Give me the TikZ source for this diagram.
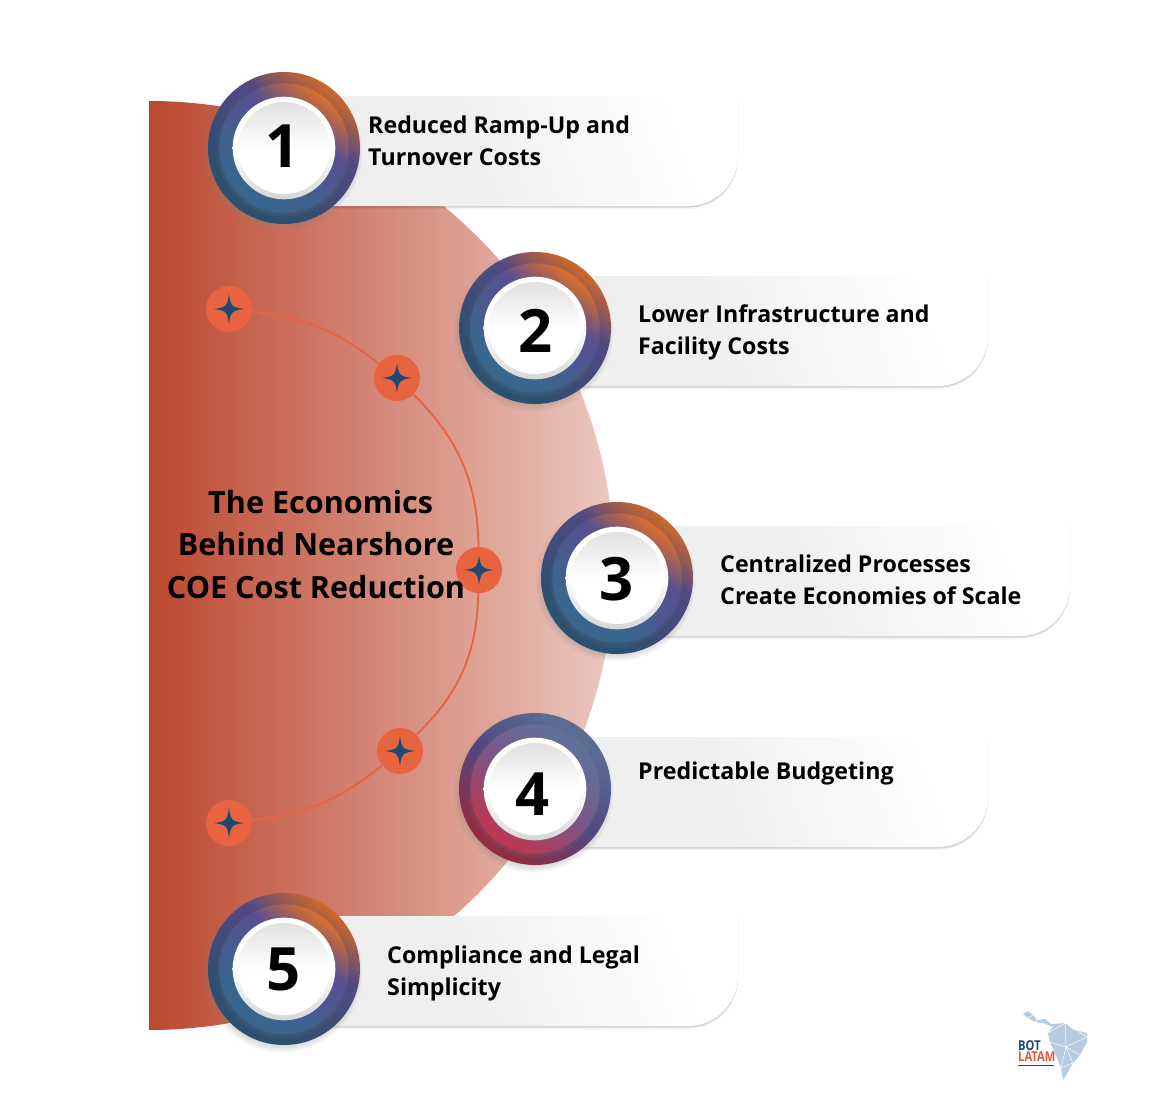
\documentclass[tikz,border=0pt]{standalone}
\usepackage{fontspec}
\setmainfont{Open Sans}
\newfontfamily\logofont[FakeStretch=0.82]{Open Sans}
\usetikzlibrary{shadows}
\definecolor{bandred}{HTML}{BC4830}
\definecolor{bandpale}{HTML}{ECC8C0}
\definecolor{dotorange}{HTML}{E8633F}
\definecolor{starnavy}{HTML}{1B4A72}
\definecolor{ringorange}{HTML}{DB6F2B}
\definecolor{ringpurple}{HTML}{5A4F8F}
\definecolor{ringblue}{HTML}{38668F}
\definecolor{ringslate}{HTML}{5F7199}
\definecolor{ringmauve}{HTML}{7A5688}
\definecolor{ringcrimson}{HTML}{BB3853}
\definecolor{pillgrey}{HTML}{EFEFEF}
\definecolor{mapblue}{HTML}{B7CCE0}
\definecolor{logored}{HTML}{E8553A}
\pgfdeclareverticalshading{coolinner}{100bp}{color(0bp)=(ringblue); color(32bp)=(ringblue); color(60bp)=(ringpurple); color(75bp)=(ringorange); color(100bp)=(ringorange)}
\pgfdeclareverticalshading{coolouter}{100bp}{color(0bp)=(ringblue!78!black); color(32bp)=(ringblue!78!black); color(60bp)=(ringpurple!92!black); color(75bp)=(ringorange!94!black); color(100bp)=(ringorange!94!black)}
\pgfdeclareverticalshading{warminner}{100bp}{color(0bp)=(ringcrimson); color(27bp)=(ringcrimson); color(50bp)=(ringmauve); color(72bp)=(ringslate); color(100bp)=(ringslate)}
\pgfdeclareverticalshading{warmouter}{100bp}{color(0bp)=(ringcrimson!78!black); color(27bp)=(ringcrimson!78!black); color(50bp)=(ringpurple!90!black); color(72bp)=(ringslate!96!black); color(100bp)=(ringslate!96!black)}
\pgfdeclarehorizontalshading{cardshade}{100bp}{color(0bp)=(pillgrey); color(40bp)=(pillgrey); color(72bp)=(white); color(100bp)=(white)}
\newcommand{\cardpath}[2]{(#1,#2) -- (#1+418,#2) [rounded corners=1.5cm] -- (#1+418,#2+110) [sharp corners] -- (#1,#2+110) -- cycle}
\tikzset{
  x=0.03cm,y=-0.03cm,
  titletext/.style={align=center,inner sep=0,font=\fontsize{26.1pt}{36.3pt}\selectfont\bfseries},
  labeltext/.style={align=left,anchor=north west,inner sep=0,font=\fontsize{19.8pt}{26.8pt}\selectfont\bfseries},
  numtext/.style={inner sep=0,font=\fontsize{51pt}{60pt}\selectfont\bfseries},
  logotext/.style={align=left,anchor=west,inner sep=0,font=\logofont\fontsize{11.6pt}{10pt}\selectfont\bfseries},
  stardot/.style={circle,fill=dotorange,minimum size=1.38cm,inner sep=0,path picture={
    \fill[starnavy,shift={(path picture bounding box.center)}]
      (0,-15) .. controls (1.5,-3) and (3,-1.5) .. (15,0)
      .. controls (3,1.5) and (1.5,3) .. (0,15)
      .. controls (-1.5,3) and (-3,1.5) .. (-15,0)
      .. controls (-3,-1.5) and (-1.5,-3) .. (0,-15) -- cycle;}},
  curveline/.style={dotorange,line width=1.6pt},
  outerring/.style={circle,shade,minimum size=4.56cm,inner sep=0,shading angle=-37,circular drop shadow={shadow xshift=-1.5pt,shadow yshift=-2.5pt,shadow scale=1.06,opacity=.45}},
  innerring/.style={circle,shade,minimum size=3.88cm,inner sep=0,shading angle=-37,circular drop shadow={shadow xshift=-1pt,shadow yshift=-2pt,shadow scale=1.05,opacity=.35}},
  whitedisc/.style={circle,minimum size=3.08cm,inner sep=0,top color=white,bottom color=black!16,middle color=white},
  whitecore/.style={circle,minimum size=2.76cm,inner sep=0,top color=black!12,bottom color=white,middle color=white},
}
\begin{document}
\begin{tikzpicture}
    \useasboundingbox[fill=white] (0,0) rectangle (1166,1120);
    % red half disc
    \shade[left color=bandred,right color=bandpale] (149,101) arc[start angle=90,end angle=-90,x radius=465,y radius=-464.5] -- cycle;

    % cards behind the badges
    \foreach \cx/\cy in {320/96,570/276,652/526,570/737,320/916}{
        \fill[black,opacity=.05] \cardpath{\cx}{\cy+3};
        \fill[black,opacity=.13] \cardpath{\cx}{\cy+1.5};
        \shade[shading=cardshade,shading angle=20] \cardpath{\cx}{\cy};
    }

    % connecting arc with stars
    \node[stardot] (star1) at (229,309) {};
    \node[stardot] (star2) at (397,378) {};
    \node[stardot] (star3) at (479,570) {};
    \node[stardot] (star4) at (400,751) {};
    \node[stardot] (star5) at (229,823) {};
    \draw[curveline] (star1) to[bend left=16] (star2);
    \draw[curveline] (star2) to[bend left=22] (star3);
    \draw[curveline] (star3) to[bend left=22] (star4);
    \draw[curveline] (star4) to[bend left=16] (star5);

    \node[titletext] (title) at (316,544.5) {\hspace*{8pt}The Economics\\Behind Nearshore\\COE Cost Reduction};

    % badges
    \foreach \n/\bx/\by/\nx/\ny/\ringname in {1/284/148/283/146/cool,2/535/328/536/331/cool,3/617/578/617/579/cool,4/535/789/533/794/warm,5/284/969/284/969/cool}{
        \node[outerring,shading=\ringname outer] (outer\n) at (\bx,\by) {};
        \node[innerring,shading=\ringname inner] (inner\n) at (outer\n.center) {};
        \node[whitedisc] (disc\n) at (outer\n.center) {};
        \node[whitecore] (core\n) at (disc\n.center) {};
        \node[numtext] (num\n) at (\nx,\ny) {\n};
    }

    % card texts
    \node[labeltext] (text1) at (368,116) {Reduced Ramp-Up and\\Turnover Costs};
    \node[labeltext] (text2) at (638,305) {Lower Infrastructure and\\Facility Costs};
    \node[labeltext] (text3) at (720,555) {Centralized Processes\\Create Economies of Scale};
    \node[labeltext] (text4) at (638,762) {Predictable Budgeting};
    \node[labeltext] (text5) at (387,946) {Compliance and Legal\\Simplicity};

    % logo
    \fill[mapblue] (1023,1014) -- (1028,1011) -- (1033,1015) -- (1037,1020) -- (1045,1019) -- (1051,1024) -- (1065,1023) -- (1074,1030) -- (1087,1033) -- (1087,1042) -- (1080,1055) -- (1073,1063) -- (1068,1072) -- (1063,1080) -- (1061,1068) -- (1059,1063) -- (1050,1042) -- (1048,1033) -- (1053,1027) -- (1043,1023) -- (1035,1022) -- (1028,1018) -- cycle;
    \draw[white,line width=.4pt] (1048,1033) -- (1065,1023) -- (1066,1047) -- (1050,1042) (1066,1047) -- (1087,1037) (1065,1023) -- (1087,1037) (1066,1047) -- (1080,1055) (1066,1047) -- (1061,1068) -- (1073,1063) (1066,1047) -- (1073,1063) (1028,1018) -- (1033,1015) (1037,1020) -- (1035,1022);
    \node[logotext] (logoname) at (1018,1051) {\textcolor{starnavy}{BOT}\\\textcolor{logored}{LATAM}};
    \fill[starnavy] (1018,1064.5) rectangle (1054,1066);
\end{tikzpicture}
\end{document}
